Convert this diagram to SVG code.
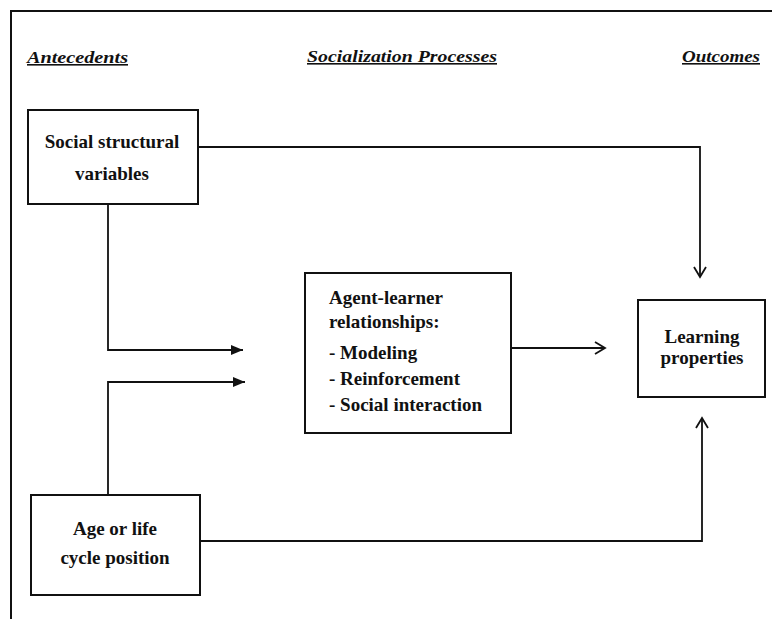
<svg xmlns="http://www.w3.org/2000/svg" width="772" height="619" viewBox="0 0 772 619">
  <defs>
    <style>
      .frame { fill: none; stroke: #111; stroke-width: 2; }
      .box { fill: #fff; stroke: #111; stroke-width: 2; }
      .line { fill: none; stroke: #111; stroke-width: 1.8; }
      .head { font-family: "Liberation Serif", serif; font-weight: bold; font-style: italic; font-size: 16px; fill: #111; text-decoration: underline; }
      .label { font-family: "Liberation Serif", serif; font-weight: bold; font-size: 19px; fill: #111; }
      .mid { text-anchor: middle; }
    </style>
    <marker id="open" markerUnits="userSpaceOnUse" markerWidth="14" markerHeight="16" refX="11" refY="7" orient="auto">
      <path d="M1,1 L11,7 L1,13" fill="none" stroke="#111" stroke-width="1.8"/>
    </marker>
    <marker id="solid" markerUnits="userSpaceOnUse" markerWidth="14" markerHeight="12" refX="12" refY="5" orient="auto">
      <path d="M0,0 L12,5 L0,10 Z" fill="#111"/>
    </marker>
  </defs>

  <rect width="772" height="619" fill="#fff"/>

  <!-- page frame: top rule and left rule -->
  <path class="frame" d="M11,619 V11 H772"/>

  <!-- column headings -->
  <g id="headings">
    <text class="head" x="27" y="63" textLength="101" lengthAdjust="spacingAndGlyphs">Antecedents</text>
    <text class="head" x="307" y="62" textLength="190" lengthAdjust="spacingAndGlyphs">Socialization Processes</text>
    <text class="head" x="682" y="62" textLength="78" lengthAdjust="spacingAndGlyphs">Outcomes</text>
  </g>

  <!-- connectors -->
  <g id="connectors">
    <path class="line" d="M198,147 H700 V277" marker-end="url(#open)"/>
    <path class="line" d="M108,204 V350 H243" marker-end="url(#solid)"/>
    <path class="line" d="M108,495 V382 H245" marker-end="url(#solid)"/>
    <path class="line" d="M511,348 H605" marker-end="url(#open)"/>
    <path class="line" d="M200,541 H702 V418" marker-end="url(#open)"/>
  </g>

  <g id="social-structural">
    <rect class="box" x="28" y="110" width="170" height="94"/>
    <text class="label mid" x="112" y="148">Social structural</text>
    <text class="label mid" x="112" y="180">variables</text>
  </g>

  <g id="age-life-cycle">
    <rect class="box" x="31" y="495" width="169" height="100"/>
    <text class="label mid" x="115" y="535">Age or life</text>
    <text class="label mid" x="115" y="564">cycle position</text>
  </g>

  <g id="agent-learner">
    <rect class="box" x="305" y="273" width="206" height="160"/>
    <text class="label" x="329" y="304">Agent-learner</text>
    <text class="label" x="329" y="328">relationships:</text>
    <text class="label" x="329" y="359">- Modeling</text>
    <text class="label" x="329" y="385">- Reinforcement</text>
    <text class="label" x="329" y="411">- Social interaction</text>
  </g>

  <g id="learning-properties">
    <rect class="box" x="638" y="300" width="127" height="97"/>
    <text class="label mid" x="702" y="343">Learning</text>
    <text class="label mid" x="702" y="364">properties</text>
  </g>
</svg>
